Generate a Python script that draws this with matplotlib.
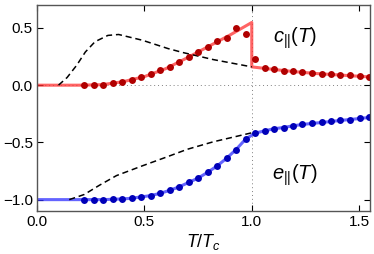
import matplotlib
matplotlib.use("Agg")
import matplotlib.pyplot as plt

plt.rcParams['font.family'] = ['Liberation Sans', 'DejaVu Sans']
plt.rcParams['mathtext.fontset'] = 'custom'
plt.rcParams['mathtext.it'] = 'Liberation Sans:italic'
plt.rcParams['mathtext.rm'] = 'Liberation Sans'

# temperatures of the sampled points (T/Tc)
T_pts = [0.220, 0.264, 0.308, 0.352, 0.397, 0.441, 0.485, 0.529, 0.573, 0.618,
         0.662, 0.706, 0.750, 0.794, 0.839, 0.883, 0.927, 0.971, 1.015, 1.060,
         1.104, 1.148, 1.192, 1.236, 1.281, 1.325, 1.369, 1.413, 1.457, 1.502, 1.546]
c_pts = [0.0, 0.0, 0.005, 0.015, 0.03, 0.047, 0.068, 0.096, 0.129, 0.16,
         0.202, 0.246, 0.287, 0.333, 0.389, 0.415, 0.497, 0.45, 0.225, 0.152,
         0.14, 0.125, 0.12, 0.111, 0.103, 0.099, 0.094, 0.088, 0.085, 0.082, 0.075]
e_pts = [-1.0, -1.0, -1.0, -0.997, -0.994, -0.988, -0.976, -0.965, -0.945, -0.919,
         -0.888, -0.85, -0.812, -0.762, -0.705, -0.638, -0.562, -0.472, -0.419, -0.399,
         -0.38, -0.37, -0.355, -0.343, -0.334, -0.326, -0.317, -0.308, -0.300, -0.291, -0.282]

# theory curves (thick lines)
T_cline = [0.0, 0.2, 0.3, 0.4, 0.5, 0.6, 0.7, 0.8, 0.9, 1.0, 1.0, 1.1, 1.2, 1.3, 1.4, 1.55]
c_line = [0.0, 0.0, 0.004, 0.03, 0.075, 0.145, 0.24, 0.34, 0.44, 0.548,
          0.16, 0.138, 0.118, 0.102, 0.09, 0.072]
T_eline = [0.0, 0.2] + T_pts
e_line = [-1.0, -1.0] + e_pts

# dashed comparison curves
T_cdash = [0.10, 0.14, 0.185, 0.225, 0.27, 0.33, 0.38, 0.49, 0.61, 0.68, 0.82, 1.0]
c_dash = [0.0, 0.067, 0.175, 0.29, 0.38, 0.435, 0.443, 0.393, 0.32, 0.285, 0.224, 0.16]
T_edash = [0.15, 0.22, 0.29, 0.37, 0.49, 0.60, 0.70, 0.82, 1.0]
e_dash = [-1.0, -0.955, -0.875, -0.79, -0.705, -0.63, -0.56, -0.495, -0.416]

fig = plt.figure(figsize=(3.74, 2.54), dpi=100)
ax = fig.add_axes([0.099, 0.169, 0.89, 0.811])

ax.axhline(0, color='gray', lw=0.7, ls=(0, (1, 3)), zorder=0)
ax.axvline(1.0, color='gray', lw=0.7, ls=(0, (1, 3)), zorder=0)

ax.plot(T_cline, c_line, color='#ff3030', lw=2.2, alpha=0.75, solid_capstyle='butt')
ax.plot(T_eline, e_line, color='#3030ff', lw=2.2, alpha=0.75)
ax.plot(T_cdash, c_dash, color='black', lw=1.1, ls=(0, (4, 2.5)))
ax.plot(T_edash, e_dash, color='black', lw=1.1, ls=(0, (4, 2.5)))
ax.plot(T_pts, c_pts, 'o', color='#b00000', ms=5, mec='none')
ax.plot(T_pts, e_pts, 'o', color='#0000b8', ms=5, mec='none')

ax.text(1.2, 0.41, r'$c_{||}(T)$', fontsize=14.5, ha='center', va='center')
ax.text(1.2, -0.79, r'$e_{||}(T)$', fontsize=14.5, ha='center', va='center')

ax.set_xlim(0, 1.55)
ax.set_ylim(-1.1, 0.7)
ax.set_xticks([0.0, 0.5, 1.0, 1.5])
ax.set_yticks([-1.0, -0.5, 0.0, 0.5])
ax.set_xticklabels(['0.0', '0.5', '1.0', '1.5'])
ax.set_yticklabels(['\u22121.0', '\u22120.5', '0.0', '0.5'])
ax.tick_params(direction='in', top=True, right=True, length=4, width=0.8,
               labelsize=11, colors='black', pad=3)
for s in ax.spines.values():
    s.set_color('#555555')
    s.set_linewidth(1.0)
ax.set_xlabel(r'$T/T_c$', fontsize=13, labelpad=2)

fig.savefig('out.png', dpi=100)
